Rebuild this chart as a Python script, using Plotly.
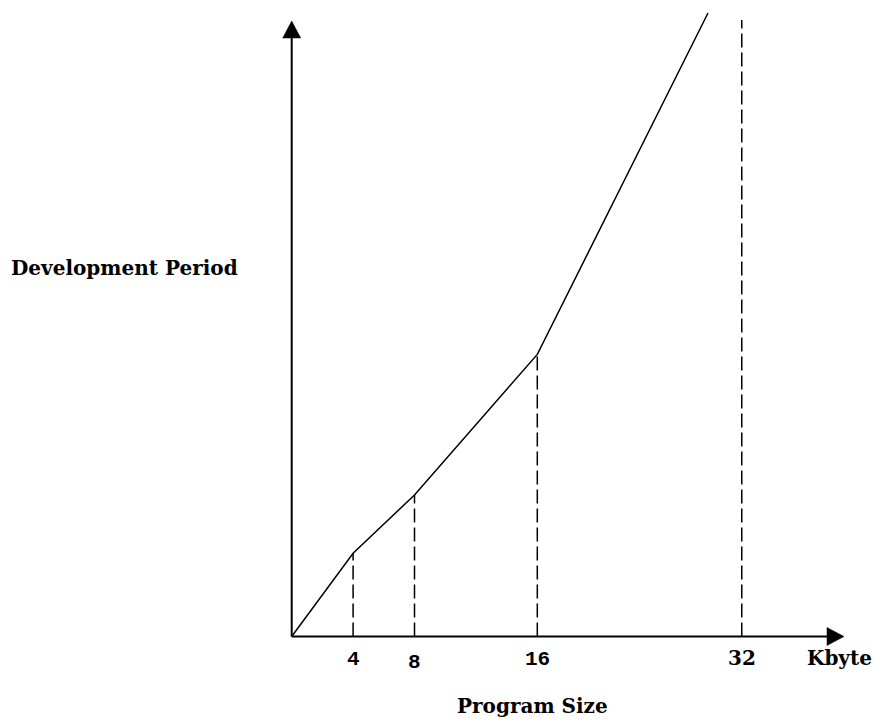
import plotly.graph_objects as go

# --- data (schematic chart) ---
size_kb = [0, 4, 8, 16]               # program size breakpoints (Kbyte)
period = [0, 5.42, 9.22, 18.38]        # development period (arbitrary units)
end_size = 27.12                       # line continues off the top
end_period = 40.62
marker_pos = 29.32                     # axis position used for the "32" mark
tick_vals = [4, 8, 16]
tick_text = ["4", "8", "16"]
far_tick_text = "32"
unit_text = "Kbyte"
x_title = "Program Size"
y_title = "Development Period"

W, H = 873, 720
PX = 15.35            # pixels per data unit
X0, Y0 = 291.7, 636.5 # pixel position of origin
x_range = [-X0 / PX, (W - X0) / PX]
y_range = [-(H - Y0) / PX, Y0 / PX]

x_tip = (844 - X0) / PX
y_tip = (Y0 - 21) / PX
head_len = 17 / PX
head_half = 9 / PX
top_dash = (Y0 - 20) / PX

fig = go.Figure()

# axes lines
fig.add_trace(go.Scatter(x=[0, x_tip - head_len], y=[0, 0], mode="lines",
                         line=dict(color="black", width=2), hoverinfo="skip"))
fig.add_trace(go.Scatter(x=[0, 0], y=[0, y_tip - head_len], mode="lines",
                         line=dict(color="black", width=2), hoverinfo="skip"))
# arrow heads
fig.add_trace(go.Scatter(x=[x_tip - head_len, x_tip, x_tip - head_len, x_tip - head_len],
                         y=[head_half, 0, -head_half, head_half], mode="lines",
                         fill="toself", fillcolor="black", line=dict(color="black", width=0.5),
                         hoverinfo="skip"))
fig.add_trace(go.Scatter(x=[-head_half, 0, head_half, -head_half],
                         y=[y_tip - head_len, y_tip, y_tip - head_len, y_tip - head_len], mode="lines",
                         fill="toself", fillcolor="black", line=dict(color="black", width=0.5),
                         hoverinfo="skip"))

# dashed verticals
for xv, yv in zip(size_kb[1:], period[1:]):
    fig.add_trace(go.Scatter(x=[xv, xv], y=[0, yv], mode="lines",
                             line=dict(color="black", width=1.5, dash="14px,5px"), hoverinfo="skip"))
fig.add_trace(go.Scatter(x=[marker_pos, marker_pos], y=[0, top_dash], mode="lines",
                         line=dict(color="black", width=1.5, dash="14px,5px"), hoverinfo="skip"))

# main line
fig.add_trace(go.Scatter(x=size_kb + [end_size], y=period + [end_period], mode="lines",
                         line=dict(color="black", width=1.5), hoverinfo="skip"))

serif = "DejaVu Serif"
mono = "Liberation Mono"
ann = []
for tv, tt in zip(tick_vals, tick_text):
    ann.append(dict(x=tv, y=-(659 - Y0) / PX + (0 if tt != "8" else -3 / PX), xref="x", yref="y",
                    text="<b>%s</b>" % tt, showarrow=False, xanchor="center", yanchor="middle",
                    font=dict(family=mono, size=21, color="black")))
ann.append(dict(x=marker_pos, y=-(658 - Y0) / PX, xref="x", yref="y", text="<b>%s</b>" % far_tick_text,
                showarrow=False, xanchor="center", yanchor="middle",
                font=dict(family=serif, size=20, color="black")))
ann.append(dict(x=(839 - X0) / PX, y=-(658 - Y0) / PX, xref="x", yref="y", text="<b>%s</b>" % unit_text,
                showarrow=False, xanchor="center", yanchor="middle",
                font=dict(family=serif, size=20, color="black")))
ann.append(dict(x=532 / W, y=1 - 706 / H, xref="paper", yref="paper", text="<b>%s</b>" % x_title,
                showarrow=False, xanchor="center", yanchor="middle",
                font=dict(family=serif, size=20, color="black")))
ann.append(dict(x=124 / W, y=1 - 268 / H, xref="paper", yref="paper", text="<b>%s</b>" % y_title,
                showarrow=False, xanchor="center", yanchor="middle",
                font=dict(family=serif, size=20, color="black")))

fig.update_layout(
    width=W, height=H, margin=dict(l=0, r=0, t=0, b=0),
    paper_bgcolor="white", plot_bgcolor="white", showlegend=False,
    xaxis=dict(range=x_range, visible=False, fixedrange=True),
    yaxis=dict(range=y_range, visible=False, fixedrange=True),
    annotations=ann,
)
fig.write_html("out.html", config={"displayModeBar": False},
               post_script="document.body.style.margin='0';document.body.style.overflow='hidden';")
